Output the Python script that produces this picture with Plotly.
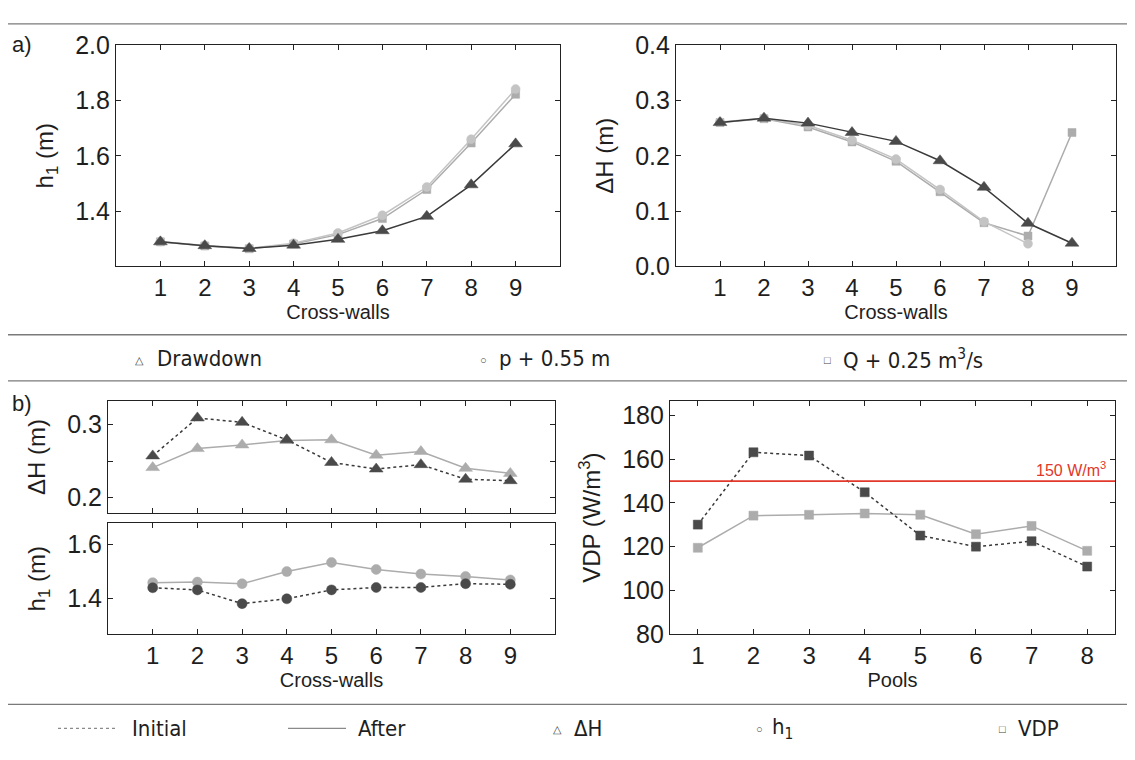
import plotly.graph_objects as go

# ---------------- data ----------------
cross_walls = [1, 2, 3, 4, 5, 6, 7, 8, 9]
pools = [1, 2, 3, 4, 5, 6, 7, 8]

a_h1_drawdown = [1.289, 1.275, 1.265, 1.277, 1.298, 1.329, 1.381, 1.495, 1.643]
a_h1_p = [1.290, 1.276, 1.266, 1.284, 1.321, 1.385, 1.487, 1.660, 1.841]
a_h1_q = [1.289, 1.274, 1.264, 1.281, 1.315, 1.373, 1.478, 1.646, 1.822]

a_dh_drawdown = [0.260, 0.268, 0.259, 0.242, 0.226, 0.191, 0.143, 0.078, 0.042]
a_dh_p = [0.261, 0.268, 0.255, 0.228, 0.194, 0.139, 0.081, 0.041, None]
a_dh_q = [0.260, 0.267, 0.252, 0.225, 0.190, 0.135, 0.079, 0.055, 0.242]

b_dh_initial = [0.257, 0.309, 0.303, 0.279, 0.248, 0.239, 0.245, 0.225, 0.223]
b_dh_after = [0.241, 0.267, 0.272, 0.278, 0.279, 0.258, 0.263, 0.240, 0.233]
b_h1_initial = [1.440, 1.432, 1.381, 1.399, 1.432, 1.441, 1.441, 1.455, 1.453]
b_h1_after = [1.459, 1.461, 1.455, 1.500, 1.534, 1.508, 1.491, 1.482, 1.469]

vdp_initial = [130.1, 163.2, 161.7, 144.9, 125.1, 120.0, 122.5, 110.9]
vdp_after = [119.5, 134.2, 134.6, 135.2, 134.6, 125.7, 129.5, 118.1]
vdp_threshold = 150

legend_a = ["Drawdown", "p + 0.55 m", "Q + 0.25 m<sup>3</sup>/s"]
legend_b = ["Initial", "After", "ΔH", "h<sub>1</sub>", "VDP"]

# ---------------- style ----------------
OFF = 8                     # page body margin
WF, HF = 1135 - 2 * OFF, 760 - 2 * OFF
FONT = "Liberation Sans, Arial, sans-serif"
NARROW = "DejaVu Sans Condensed, Liberation Sans, sans-serif"
TXT = "#1e1e1e"
DARK = "#4a4a4a"
DARK_LINE = "#3a3a3a"
LIGHT = "#acacac"
LIGHTER = "#c4c4c4"
RED = "#e2382b"


def px_x(p):
    return (p - OFF) / WF


def px_y(p):
    return 1 - (p - OFF) / HF


fig = go.Figure()


def add(x, y, xa, ya, color, symbol, size, lcolor, dash="solid", lw=1.5):
    fig.add_trace(go.Scatter(
        x=x, y=y, xaxis=xa, yaxis=ya, mode="lines+markers",
        line=dict(color=lcolor, width=lw, dash=dash),
        marker=dict(symbol=symbol, size=size, color=color,
                    line=dict(color=color, width=0.5)),
        showlegend=False, connectgaps=False, hoverinfo="x+y"))


# panel a left: h1
add(cross_walls, a_h1_q, "x", "y", LIGHT, "square", 8, LIGHT)
add(cross_walls, a_h1_p, "x", "y", LIGHTER, "circle", 9, LIGHTER)
add(cross_walls, a_h1_drawdown, "x", "y", DARK, "triangle-up", 12, DARK_LINE)
# panel a right: dH
add(cross_walls, a_dh_q, "x2", "y2", LIGHT, "square", 8, LIGHT)
add(cross_walls, a_dh_p, "x2", "y2", LIGHTER, "circle", 9, LIGHTER)
add(cross_walls, a_dh_drawdown, "x2", "y2", DARK, "triangle-up", 12, DARK_LINE)
# panel b: dH
add(cross_walls, b_dh_after, "x3", "y3", LIGHT, "triangle-up", 12, LIGHT)
add(cross_walls, b_dh_initial, "x3", "y3", DARK, "triangle-up", 12, DARK_LINE, dash="dot")
# panel b: h1
add(cross_walls, b_h1_after, "x4", "y4", LIGHT, "circle", 10, LIGHT)
add(cross_walls, b_h1_initial, "x4", "y4", DARK, "circle", 10, DARK_LINE, dash="dot")
# panel b: VDP
add(pools, vdp_after, "x5", "y5", LIGHT, "square", 9, LIGHT)
add(pools, vdp_initial, "x5", "y5", DARK, "square", 9, DARK_LINE, dash="dot")


def xaxis(dom, rng, tickvals, anchor, title=None, labels=True):
    d = dict(domain=dom, range=rng, anchor=anchor, tickmode="array",
             tickvals=tickvals, showticklabels=labels,
             ticks="inside", ticklen=5, tickwidth=1, tickcolor="#222",
             showline=True, linecolor="#222", linewidth=1.2, mirror="ticks",
             showgrid=False, zeroline=False,
             tickfont=dict(family=FONT, size=24, color=TXT))
    if title:
        d["title"] = dict(text=title, font=dict(family=FONT, size=20, color=TXT), standoff=0)
    return d


def yaxis(dom, rng, tickvals, anchor, title, fmt, minor=None):
    d = dict(domain=dom, range=rng, anchor=anchor, tickmode="array",
             tickvals=tickvals, tickformat=fmt,
             ticks="inside", ticklen=5, tickwidth=1, tickcolor="#222",
             showline=True, linecolor="#222", linewidth=1.2, mirror="ticks",
             showgrid=False, zeroline=False,
             tickfont=dict(family=FONT, size=25, color=TXT),
             title=dict(text=title, font=dict(family=FONT, size=24, color=TXT), standoff=14))
    if minor:
        d["minor"] = dict(tickvals=minor, ticks="inside", ticklen=5, tickwidth=1,
                          tickcolor="#222", showgrid=False)
    return d


dA_left = [px_x(116), px_x(560)]
dA_right = [px_x(676), px_x(1116)]
dA_y = [px_y(262), px_y(32)]
dB_left = [px_x(108), px_x(555)]
dB1_y = [px_y(518), px_y(402)]
dB2_y = [px_y(644), px_y(529)]
dC_x = [px_x(670), px_x(1115)]
dC_y = [px_y(644), px_y(402)]

fig.update_layout(
    width=WF, height=HF, margin=dict(l=0, r=0, t=0, b=0),
    paper_bgcolor="white", plot_bgcolor="white",
    font=dict(family=FONT, color=TXT),
    xaxis=xaxis(dA_left, [0, 10], cross_walls, "y", "Cross-walls"),
    yaxis=yaxis(dA_y, [1.2, 2.0], [1.4, 1.6, 1.8, 2.0], "x", "h<sub>1</sub> (m)", ".1f"),
    xaxis2=xaxis(dA_right, [0, 10], cross_walls, "y2", "Cross-walls"),
    yaxis2=yaxis(dA_y, [0, 0.4], [0, 0.1, 0.2, 0.3, 0.4], "x2", "ΔH (m)", ".1f"),
    xaxis3=xaxis(dB_left, [0, 10], cross_walls, "y3", None, labels=False),
    yaxis3=yaxis(dB1_y, [0.179, 0.332], [0.2, 0.3], "x3", "ΔH (m)", ".1f", minor=[0.25]),
    xaxis4=xaxis(dB_left, [0, 10], cross_walls, "y4", "Cross-walls"),
    yaxis4=yaxis(dB2_y, [1.268, 1.679], [1.4, 1.6], "x4", "h<sub>1</sub> (m)", ".1f"),
    xaxis5=xaxis(dC_x, [0.5, 8.5], pools, "y5", "Pools"),
    yaxis5=yaxis(dC_y, [80, 186.6], [80, 100, 120, 140, 160, 180], "x5",
                 "VDP (W/m<sup>3</sup>)", "d"),
)

shapes = []
# horizontal separators
for yy in [10, 333, 381, 717]:
    shapes.append(dict(type="line", xref="paper", yref="paper",
                       x0=px_x(8), x1=1, y0=px_y(yy), y1=px_y(yy),
                       line=dict(color="#7a7a7a", width=1.3)))
# threshold line
shapes.append(dict(type="line", xref="x5 domain", yref="y5",
                   x0=0, x1=1, y0=vdp_threshold, y1=vdp_threshold,
                   line=dict(color=RED, width=1.6)))
# legend b line samples
shapes.append(dict(type="line", xref="paper", yref="paper",
                   x0=px_x(58), x1=px_x(116), y0=px_y(742), y1=px_y(742),
                   line=dict(color="#8a8a8a", width=1.2, dash="dot")))
shapes.append(dict(type="line", xref="paper", yref="paper",
                   x0=px_x(288), x1=px_x(346), y0=px_y(742), y1=px_y(742),
                   line=dict(color="#8a8a8a", width=1.2)))
fig.update_layout(shapes=shapes)

ann = []


def text(x, y, s, size=18, family=FONT, color=TXT, xanchor="left"):
    ann.append(dict(x=px_x(x), y=px_y(y), xref="paper", yref="paper", text=s,
                    showarrow=False, xanchor=xanchor, yanchor="middle",
                    font=dict(family=family, size=size, color=color)))


text(10, 31, "a)", size=22)
text(10, 404, "b)", size=22)

# legend a
text(133, 359, "△", size=11, color="#444")
text(155, 358, legend_a[0], size=22, family=NARROW)
text(478, 359, "○", size=11, color="#444")
text(497, 358, legend_a[1], size=22, family=NARROW)
text(822, 359, "□", size=11, color="#444")
text(841, 358, legend_a[2], size=22, family=NARROW)

# legend b
text(130, 742, legend_b[0], size=22, family=NARROW)
text(356, 742, legend_b[1], size=22, family=NARROW)
text(551, 743, "△", size=11, color="#444")
text(572, 742, legend_b[2], size=22, family=NARROW)
text(754, 743, "○", size=11, color="#444")
text(770, 742, legend_b[3], size=22, family=NARROW)
text(997, 743, "□", size=11, color="#444")
text(1016, 742, legend_b[4], size=22, family=NARROW)

# threshold label
ann.append(dict(x=0.985, y=vdp_threshold, xref="x5 domain", yref="y5",
                text="150 W/m<sup>3</sup>", showarrow=False, xanchor="right",
                yanchor="bottom", yshift=0,
                font=dict(family=FONT, size=16, color=RED)))

fig.update_layout(annotations=ann)

fig.write_html("out.html")
